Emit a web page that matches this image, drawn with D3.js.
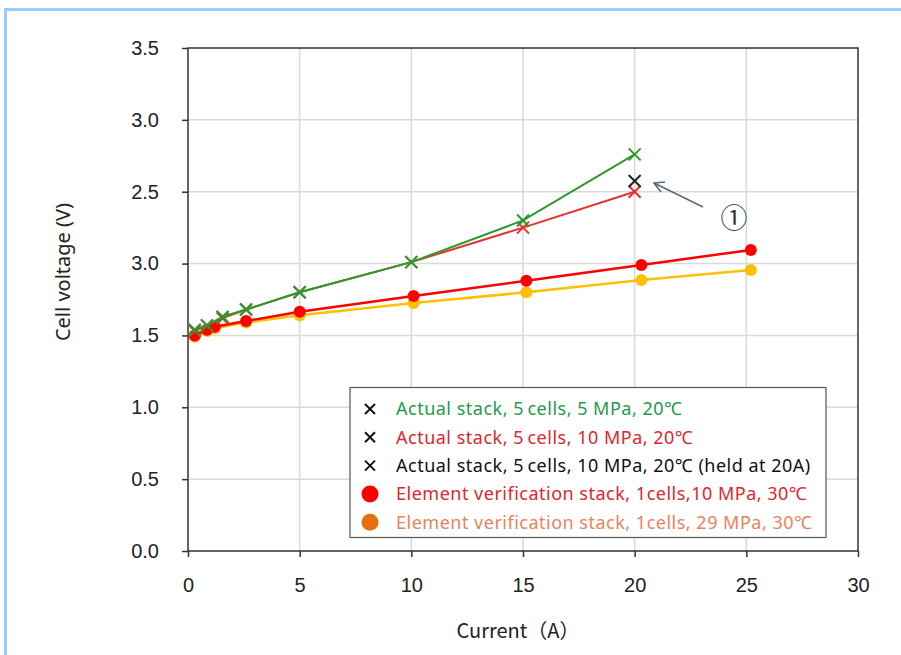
<!DOCTYPE html>
<html>
<head>
<meta charset="utf-8">
<script src="https://cdn.jsdelivr.net/npm/d3@7"></script>
<style>
  body { margin: 0; background: #fff; }
  svg { display: block; font-family: "Liberation Sans", Arial, sans-serif; }
</style>
</head>
<body>
<svg class="chart" width="901" height="655"></svg>
<script>
var width = 901,
	height = 655,
	margin = {top: 48, right: 43, bottom: 104, left: 188};

// y tick values and the labels as printed in the original (2.0 reads "3.0")
var yTicks = [0, 0.5, 1.0, 1.5, 2.0, 2.5, 3.0, 3.5];
var yTickLabels = ["0.0", "0.5", "1.0", "1.5", "3.0", "2.5", "3.0", "3.5"];
var xTicks = [0, 5, 10, 15, 20, 25, 30];

// Actual stack, 5 cells, 5 MPa, 20C
var green5 = [
	[0.3, 1.54], [0.85, 1.57], [1.55, 1.63], [2.6, 1.68], [5, 1.80],
	[10, 2.01], [15, 2.30], [20, 2.76]
];
// Actual stack, 5 cells, 10 MPa, 20C
var red10 = [
	[0.3, 1.53], [0.85, 1.57], [1.55, 1.62], [2.6, 1.68], [5, 1.80],
	[10, 2.01], [15, 2.25], [20, 2.50]
];
// held at 20A
var held20 = [[20, 2.575]];
// Element verification stack, 1 cell, 10 MPa, 30C
var elem10 = [
	[0.3, 1.50], [0.85, 1.54], [1.2, 1.56], [2.6, 1.60], [5, 1.665],
	[10.1, 1.775], [15.15, 1.88], [20.3, 1.99], [25.2, 2.095]
];
// Element verification stack, 1 cell, 29 MPa, 30C
var elem29 = [
	[0.3, 1.49], [0.85, 1.53], [1.2, 1.55], [2.6, 1.59], [5, 1.64],
	[10.1, 1.725], [15.15, 1.80], [20.3, 1.885], [25.2, 1.955]
];

var legendLabels = [
	"Actual stack, 5\u2009cells, 5 MPa, 20\u2103",
	"Actual stack, 5\u2009cells, 10 MPa, 20\u2103",
	"Actual stack, 5\u2009cells, 10 MPa, 20\u2103 (held at 20A)",
	"Element verification stack, 1cells,10 MPa, 30\u2103",
	"Element verification stack, 1cells, 29 MPa, 30\u2103"
];
var legendTextColors = ["#23994a", "#e0262b", "#111", "#e0262b", "#e9825a"];
var legendMarkers = ["x", "x", "x", "o", "o"];
var legendMarkerColors = ["#111", "#111", "#111", "#ff0000", "#e8700c"];

var chart = d3.select(".chart");

// page frame
chart.append("line").attr("x1", 4).attr("x2", width).attr("y1", 9.5).attr("y2", 9.5)
	.attr("stroke", "#99ccff").attr("stroke-width", 3);
chart.append("line").attr("x1", 5.5).attr("x2", 5.5).attr("y1", 8).attr("y2", height)
	.attr("stroke", "#99ccff").attr("stroke-width", 3);

var x = d3.scaleLinear().domain([0, 30]).range([margin.left, width - margin.right]);
var y = d3.scaleLinear().domain([0, 3.5]).range([height - margin.bottom, margin.top]);

// grid
chart.append("g").selectAll("line").data(xTicks.slice(1, -1)).enter().append("line")
	.attr("x1", function(d) { return x(d); }).attr("x2", function(d) { return x(d); })
	.attr("y1", y(0)).attr("y2", y(3.5))
	.attr("stroke", "#d9d9d9").attr("stroke-width", 1.5);
chart.append("g").selectAll("line").data(yTicks.slice(1, -1)).enter().append("line")
	.attr("x1", x(0)).attr("x2", x(30))
	.attr("y1", function(d) { return y(d); }).attr("y2", function(d) { return y(d); })
	.attr("stroke", "#d9d9d9").attr("stroke-width", 1.5);

// frame
chart.append("rect")
	.attr("x", x(0)).attr("y", y(3.5))
	.attr("width", x(30) - x(0)).attr("height", y(0) - y(3.5))
	.attr("fill", "none").attr("stroke", "#333").attr("stroke-width", 1.5);

var xAxis = d3.axisBottom(x).tickValues(xTicks).tickSize(6).tickPadding(21);
var yAxis = d3.axisLeft(y).tickValues(yTicks).tickSize(6).tickPadding(23)
	.tickFormat(function(d, i) { return yTickLabels[i]; });

chart.append("g")
	.attr("transform", "translate(0," + y(0) + ")")
	.call(xAxis)
	.call(function(g) {
		g.select(".domain").remove();
		g.selectAll("line").attr("stroke", "#333").attr("stroke-width", 1.5);
		g.selectAll("text").attr("font-size", 20).attr("fill", "#222")
			.attr("font-family", "'Liberation Sans', sans-serif");
	});

chart.append("g")
	.attr("transform", "translate(" + x(0) + ",0)")
	.call(yAxis)
	.call(function(g) {
		g.select(".domain").remove();
		g.selectAll("line").attr("stroke", "#333").attr("stroke-width", 1.5);
		g.selectAll("text").attr("font-size", 20).attr("fill", "#222")
			.attr("font-family", "'Liberation Sans', sans-serif");
	});

// axis titles
chart.append("text")
	.attr("x", 518).attr("y", 638)
	.attr("text-anchor", "middle")
	.attr("font-size", 20).attr("fill", "#222")
	.attr("font-family", "'Noto Sans CJK JP', sans-serif")
	.text("Current\uFF08A\uFF09");
chart.append("text")
	.attr("transform", "translate(70,272) rotate(-90)")
	.attr("text-anchor", "middle")
	.attr("font-size", 20).attr("fill", "#222")
	.attr("font-family", "'Noto Sans', sans-serif")
	.text("Cell voltage (V)");

var line = d3.line()
	.x(function(d) { return x(d[0]); })
	.y(function(d) { return y(d[1]); });

function crossPath(cx, cy, r) {
	return "M" + (cx - r) + "," + (cy - r) + "L" + (cx + r) + "," + (cy + r) +
		"M" + (cx - r) + "," + (cy + r) + "L" + (cx + r) + "," + (cy - r);
}

function drawCircleSeries(data, color) {
	chart.append("path").datum(data)
		.attr("d", line).attr("fill", "none")
		.attr("stroke", color).attr("stroke-width", 2.5);
	chart.append("g").selectAll("circle").data(data).enter().append("circle")
		.attr("cx", function(d) { return x(d[0]); })
		.attr("cy", function(d) { return y(d[1]); })
		.attr("r", 6)
		.attr("fill", color);
}

function drawCrossSeries(data, color, withLine) {
	if (withLine) {
		chart.append("path").datum(data)
			.attr("d", line).attr("fill", "none")
			.attr("stroke", color).attr("stroke-width", 2);
	}
	chart.append("g").selectAll("path").data(data).enter().append("path")
		.attr("d", function(d) { return crossPath(x(d[0]), y(d[1]), 6); })
		.attr("stroke", color).attr("stroke-width", 2).attr("fill", "none");
}

drawCircleSeries(elem29, "#ffc000");
drawCircleSeries(elem10, "#ff0000");
drawCrossSeries(red10, "#e8312f", true);
drawCrossSeries(green5, "#2b9a2b", true);
drawCrossSeries(held20, "#222", false);

// annotation arrow
chart.append("line")
	.attr("x1", 703).attr("y1", 207).attr("x2", 654).attr("y2", 183)
	.attr("stroke", "#55677a").attr("stroke-width", 1.5);
chart.append("path")
	.attr("d", "M665,182L654,183L661,192")
	.attr("stroke", "#55677a").attr("stroke-width", 1.5).attr("fill", "none");
chart.append("text")
	.attr("x", 734).attr("y", 228)
	.attr("text-anchor", "middle")
	.attr("font-size", 27).attr("fill", "#333")
	.attr("font-family", "'Noto Sans CJK JP', sans-serif")
	.text("\u2460");

// legend
var legend = chart.append("g");
legend.append("rect")
	.attr("x", 350).attr("y", 387.5).attr("width", 476).attr("height", 150)
	.attr("fill", "#fff").attr("stroke", "#555").attr("stroke-width", 1.2);

var row = legend.selectAll(".row")
	.data(legendLabels)
  .enter().append("g")
	.attr("class", "row")
	.attr("transform", function(d, i) { return "translate(0," + (409 + i * 28.3) + ")"; });

row.each(function(d, i) {
	var g = d3.select(this);
	if (legendMarkers[i] === "x") {
		g.append("path").attr("d", crossPath(370, 0, 5))
			.attr("stroke", legendMarkerColors[i]).attr("stroke-width", 2);
	} else {
		g.append("circle").attr("cx", 370).attr("cy", 0).attr("r", 8.5)
			.attr("fill", legendMarkerColors[i]);
	}
	g.append("text")
		.attr("x", 396).attr("y", 0).attr("dy", ".35em")
		.attr("font-size", 18).attr("letter-spacing", 0.5)
		.attr("fill", legendTextColors[i])
		.attr("font-family", "'Noto Sans', sans-serif")
		.text(d);
});
</script>
</body>
</html>
